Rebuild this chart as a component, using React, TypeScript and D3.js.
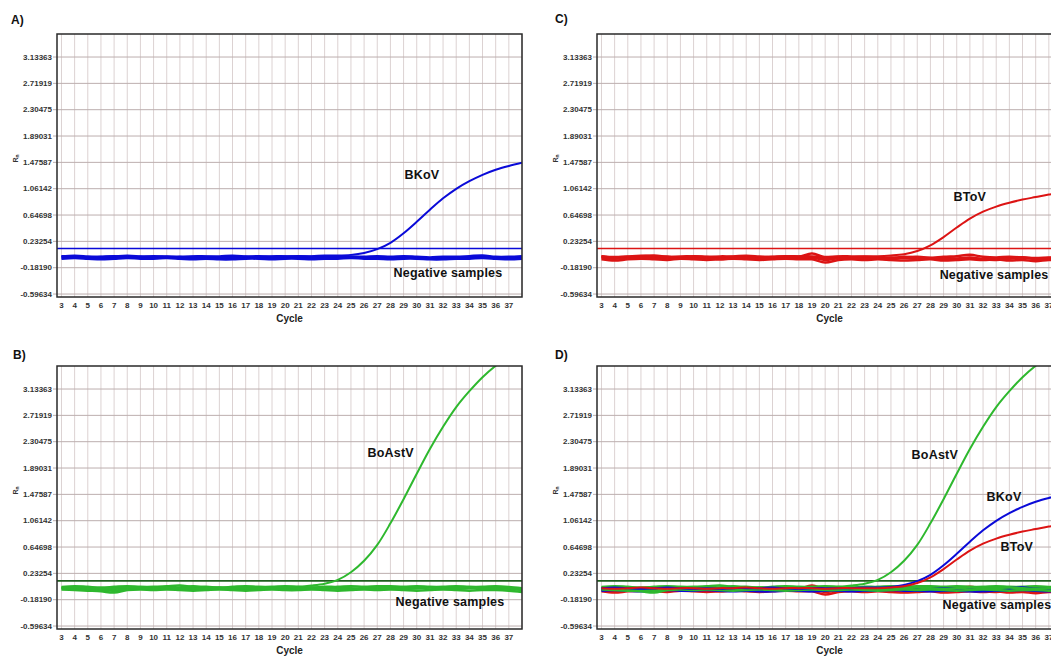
import React from 'react';
import * as d3 from 'd3';

// x categories (PCR cycle) and y ticks as printed by the instrument
const cycles = [
  3, 4, 5, 6, 7, 8, 9, 10, 11, 12, 13, 14, 15, 16, 17, 18, 19, 20,
  21, 22, 23, 24, 25, 26, 27, 28, 29, 30, 31, 32, 33, 34, 35, 36, 37, 38,
];
const cycleLabels = cycles.filter((c) => c <= 37);
const yTicks = [-0.59634, -0.1819, 0.23254, 0.64698, 1.06142, 1.47587, 1.89031, 2.30475, 2.71919, 3.13363];
const yTickLabels = ['-0.59634', '-0.18190', '0.23254', '0.64698', '1.06142', '1.47587', '1.89031', '2.30475', '2.71919', '3.13363'];

// positive samples
const bkov = [
  0.0, 0.01, 0.0, -0.01, 0.0, 0.01,
  0.0, -0.01, 0.0, -0.01, 0.0, 0.0,
  0.0, 0.01, 0.0, -0.01, 0.0, 0.0,
  0.0, 0.0, 0.01, 0.01, 0.02, 0.05,
  0.11, 0.21, 0.36, 0.54, 0.73, 0.91,
  1.06, 1.18, 1.28, 1.36, 1.42, 1.47,
];
const btov = [
  0.0, -0.01, 0.0, 0.01, 0.0, -0.01,
  0.0, 0.0, -0.01, 0.0, 0.0, 0.01,
  0.0, -0.01, 0.0, 0.0, 0.0, -0.01,
  0.0, 0.0, 0.0, 0.0, 0.01, 0.03,
  0.08, 0.17, 0.3, 0.45, 0.59, 0.7,
  0.78, 0.84, 0.89, 0.93, 0.97, 1.0,
];
const boastv = [
  0.0, 0.01, 0.0, -0.01, 0.0, 0.01,
  0.0, 0.0, 0.01, 0.0, -0.01, 0.0,
  0.0, 0.0, 0.0, 0.0, 0.0, 0.01,
  0.02, 0.04, 0.07, 0.13, 0.25, 0.43,
  0.68, 1.02, 1.4, 1.8, 2.19, 2.54,
  2.85, 3.1, 3.32, 3.5, 3.65, 3.77,
];

// negative samples
const negBlue = [
  [-0.02, -0.01, -0.03, -0.04, -0.02, -0.01, -0.02, -0.03, -0.02, -0.01, -0.02, -0.03,
    -0.04, -0.03, -0.02, -0.03, -0.02, -0.01, -0.02, -0.03, -0.02, -0.02, -0.01, -0.02,
    -0.03, -0.02, -0.02, -0.03, -0.04, -0.03, -0.02, -0.02, -0.01, -0.02, -0.03, -0.02],
  [0.0, -0.01, -0.02, -0.01, 0.0, -0.01, -0.01, 0.0, -0.01, -0.02, -0.01, -0.01,
    -0.02, -0.01, -0.01, 0.0, -0.01, -0.01, 0.0, -0.01, -0.01, 0.0, -0.01, -0.01,
    0.0, -0.01, 0.0, -0.01, -0.02, -0.01, -0.01, 0.0, 0.01, -0.01, -0.01, 0.0],
  [-0.04, -0.03, -0.04, -0.05, -0.04, -0.03, -0.04, -0.04, -0.03, -0.04, -0.05, -0.04,
    -0.05, -0.05, -0.04, -0.04, -0.05, -0.04, -0.04, -0.05, -0.04, -0.04, -0.03, -0.04,
    -0.04, -0.05, -0.04, -0.04, -0.05, -0.05, -0.04, -0.04, -0.03, -0.04, -0.05, -0.04],
];
const negGreen = [
  [0.02, 0.03, 0.02, 0.01, 0.02, 0.03, 0.02, 0.02, 0.03, 0.04, 0.02, 0.02,
    0.01, 0.02, 0.03, 0.02, 0.02, 0.03, 0.02, 0.01, 0.02, 0.02, 0.03, 0.02,
    0.03, 0.03, 0.02, 0.03, 0.02, 0.02, 0.03, 0.02, 0.02, 0.03, 0.02, 0.0],
  [0.0, -0.01, 0.0, -0.02, -0.01, 0.0, -0.01, 0.0, 0.01, 0.0, -0.01, 0.0,
    0.01, 0.0, -0.01, 0.0, 0.01, 0.0, -0.01, 0.0, 0.0, 0.01, 0.0, -0.01,
    0.0, 0.01, 0.0, 0.0, 0.01, 0.0, -0.01, 0.0, 0.01, 0.0, -0.01, -0.03],
  [-0.02, -0.03, -0.04, -0.05, -0.07, -0.03, -0.02, -0.03, -0.02, -0.03, -0.04, -0.03,
    -0.02, -0.03, -0.04, -0.03, -0.02, -0.03, -0.03, -0.02, -0.03, -0.04, -0.03, -0.02,
    -0.03, -0.02, -0.03, -0.04, -0.03, -0.02, -0.03, -0.04, -0.03, -0.03, -0.04, -0.06],
  [0.01, 0.0, -0.02, -0.03, -0.04, -0.01, 0.0, -0.01, 0.0, 0.01, 0.03, 0.01,
    0.0, -0.01, 0.0, 0.01, 0.0, -0.01, 0.0, 0.01, 0.0, -0.01, -0.02, 0.0,
    0.01, 0.0, -0.01, 0.0, 0.01, 0.0, 0.0, 0.01, 0.0, -0.01, 0.0, -0.02],
];
const negRed = [
  [-0.01, -0.02, -0.01, 0.0, 0.01, -0.01, -0.02, 0.0, -0.01, -0.02, -0.01, -0.01,
    -0.02, -0.01, 0.0, -0.01, 0.04, -0.02, -0.01, -0.02, -0.01, -0.02, -0.03, -0.01,
    -0.02, -0.03, -0.01, 0.0, 0.02, -0.01, -0.02, -0.01, -0.02, -0.03, -0.02, -0.02],
  [-0.05, -0.07, -0.05, -0.04, -0.05, -0.06, -0.04, -0.05, -0.06, -0.05, -0.04, -0.05,
    -0.06, -0.05, -0.04, -0.05, -0.05, -0.1, -0.06, -0.05, -0.06, -0.05, -0.06, -0.07,
    -0.06, -0.05, -0.07, -0.06, -0.05, -0.06, -0.05, -0.07, -0.06, -0.08, -0.06, -0.07],
  [-0.03, -0.04, -0.02, -0.03, -0.02, -0.03, -0.03, -0.02, -0.03, -0.04, -0.03, -0.02,
    -0.03, -0.04, -0.03, -0.02, -0.02, -0.04, -0.03, -0.04, -0.03, -0.04, -0.02, -0.03,
    -0.04, -0.03, -0.03, -0.04, -0.03, -0.04, -0.04, -0.03, -0.02, -0.04, -0.03, -0.04],
  [0.0, -0.03, -0.04, -0.02, -0.03, -0.01, -0.04, -0.03, -0.02, -0.05, -0.03, -0.02,
    -0.04, -0.02, -0.03, -0.01, -0.02, -0.06, -0.03, -0.02, -0.04, -0.03, -0.05, -0.02,
    -0.01, -0.03, -0.05, -0.04, -0.02, -0.05, -0.06, -0.04, -0.02, -0.05, -0.04, -0.05],
];

const thresholdBlueRed = 0.12;
const thresholdGreen = 0.115;

const BLUE = '#0a0ad8';
const RED = '#dc1414';
const GREEN = '#2eb82e';
const DARKGREEN = '#1d5e1d';

const W = 465;
const H = 263;
const FONT = '"Liberation Sans", Arial, sans-serif';

const xScale = d3.scaleLinear().domain([2.66, 38]).range([0, W]);
const yScale = d3.scaleLinear().domain([-0.643, 3.496]).range([H, 0]);

const line = d3
  .line<number>()
  .x((_, i) => xScale(cycles[i]))
  .y((d) => yScale(d))
  .curve(d3.curveCatmullRom.alpha(0.5));

type Series = { values: number[]; color: string };
type Label = { text: string; cycle: number; value: number };

function Panel(props: {
  id: string;
  left: number;
  top: number;
  negatives: Series[];
  threshold: { value: number; color: string };
  curves: Series[];
  labels: Label[];
}) {
  const { id, left, top, negatives, threshold, curves, labels } = props;
  return (
    <g transform={`translate(${left},${top})`} fontFamily={FONT}>
      <defs>
        <clipPath id={`clip-${id}`}>
          <rect x={0} y={0} width={W} height={H} />
        </clipPath>
      </defs>
      <rect x={0} y={0} width={W} height={H} fill="#fff" />
      {cycles.map((c) => (
        <line key={`v${c}`} x1={xScale(c)} x2={xScale(c)} y1={0} y2={H} stroke="#dcd2d2" strokeWidth={1} />
      ))}
      {yTicks.map((t) => (
        <line key={`h${t}`} x1={-4} x2={W} y1={yScale(t)} y2={yScale(t)} stroke="#bcaeae" strokeWidth={1} />
      ))}
      {yTicks.map((t, i) => (
        <text
          key={`yl${t}`}
          x={-5}
          y={yScale(t)}
          dy="0.33em"
          textAnchor="end"
          fontSize={8}
          fontWeight="bold"
          fill="#333"
        >
          {yTickLabels[i]}
        </text>
      ))}
      {cycleLabels.map((c) => (
        <text key={`xl${c}`} x={xScale(c)} y={H + 11} textAnchor="middle" fontSize={8} fontWeight="bold" fill="#333">
          {c}
        </text>
      ))}
      <text x={W / 2} y={H + 25} textAnchor="middle" fontSize={10} fontWeight="bold" fill="#222">
        Cycle
      </text>
      <text transform={`translate(-39,${H / 2 - 7}) rotate(-90)`} textAnchor="middle" fontSize={7} fontWeight="bold" fill="#333">
        R<tspan fontSize={5} dy={1}>n</tspan>
      </text>
      <g clipPath={`url(#clip-${id})`}>
        {negatives.map((s, i) => (
          <path key={`n${i}`} d={line(s.values) ?? ''} fill="none" stroke={s.color} strokeWidth={2.5} />
        ))}
        <line
          x1={0}
          x2={W}
          y1={yScale(threshold.value)}
          y2={yScale(threshold.value)}
          stroke={threshold.color}
          strokeWidth={1.7}
        />
        {curves.map((s, i) => (
          <path key={`c${i}`} d={line(s.values) ?? ''} fill="none" stroke={s.color} strokeWidth={2} />
        ))}
      </g>
      {labels.map((l) => (
        <text
          key={l.text}
          x={xScale(l.cycle)}
          y={yScale(l.value)}
          fontSize={12.5}
          fontWeight="bold"
          letterSpacing={0.2}
          fill="#111"
        >
          {l.text}
        </text>
      ))}
      <rect x={0} y={0} width={W} height={H} fill="none" stroke="#2a2a2a" strokeWidth={1.5} />
    </g>
  );
}

const asSeries = (rows: number[][], color: string): Series[] => rows.map((values) => ({ values, color }));

export default function App() {
  const negMixed: Series[] = [
    ...asSeries(negRed, RED),
    ...asSeries(negGreen.slice(0, 2), GREEN),
    ...asSeries(negBlue, BLUE),
    ...asSeries(negGreen.slice(2), GREEN),
  ];
  return (
    <svg
      width={1051}
      height={656}
      style={{ position: 'absolute', left: 0, top: 0, background: '#fff' }}
    >
      <rect width={1051} height={656} fill="#fff" />
      <g fontFamily={FONT} fontWeight="bold" fontSize={12} fill="#111">
        <text x={11} y={24}>A)</text>
        <text x={555} y={23}>C)</text>
        <text x={13} y={359}>B)</text>
        <text x={555} y={359}>D)</text>
      </g>
      <Panel
        id="A"
        left={57}
        top={34}
        negatives={asSeries(negBlue, BLUE)}
        threshold={{ value: thresholdBlueRed, color: BLUE }}
        curves={[{ values: bkov, color: BLUE }]}
        labels={[
          { text: 'BKoV', cycle: 29.07, value: 1.214 },
          { text: 'Negative samples', cycle: 28.24, value: -0.329 },
        ]}
      />
      <Panel
        id="C"
        left={597}
        top={34}
        negatives={asSeries(negRed, RED)}
        threshold={{ value: thresholdBlueRed, color: RED }}
        curves={[{ values: btov, color: RED }]}
        labels={[
          { text: 'BToV', cycle: 29.76, value: 0.867 },
          { text: 'Negative samples', cycle: 28.7, value: -0.36 },
        ]}
      />
      <Panel
        id="B"
        left={57}
        top={366}
        negatives={asSeries(negGreen, GREEN)}
        threshold={{ value: thresholdGreen, color: DARKGREEN }}
        curves={[{ values: boastv, color: GREEN }]}
        labels={[
          { text: 'BoAstV', cycle: 26.26, value: 2.063 },
          { text: 'Negative samples', cycle: 28.39, value: -0.28 },
        ]}
      />
      <Panel
        id="D"
        left={597}
        top={366}
        negatives={negMixed}
        threshold={{ value: thresholdGreen, color: DARKGREEN }}
        curves={[
          { values: boastv, color: GREEN },
          { values: bkov, color: BLUE },
          { values: btov, color: RED },
        ]}
        labels={[
          { text: 'BoAstV', cycle: 26.57, value: 2.032 },
          { text: 'BKoV', cycle: 32.27, value: 1.371 },
          { text: 'BToV', cycle: 33.33, value: 0.584 },
          { text: 'Negative samples', cycle: 28.92, value: -0.329 },
        ]}
      />
    </svg>
  );
}
